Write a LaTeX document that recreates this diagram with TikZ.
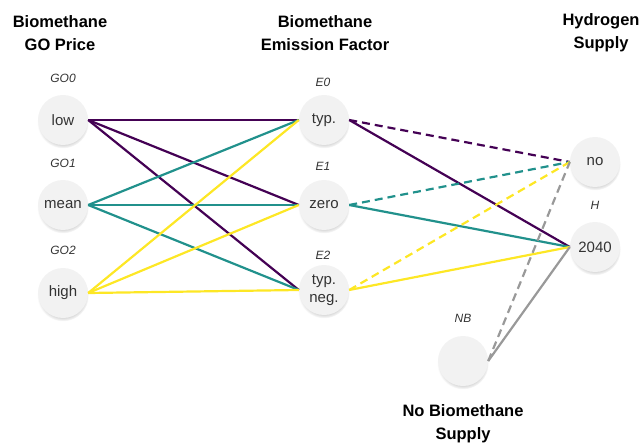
\documentclass[tikz,border=0pt]{standalone}
\usepackage{fontspec}
\setmainfont{Liberation Sans}
\usetikzlibrary{shadows}
\definecolor{vpurple}{HTML}{440154}
\definecolor{vteal}{HTML}{21918C}
\definecolor{vyellow}{HTML}{FDE725}
\definecolor{vgray}{HTML}{999999}
\definecolor{nodefill}{HTML}{F2F2F2}
\definecolor{txt}{HTML}{333333}
\begin{document}
\begin{tikzpicture}[x=1pt,y=-1pt,
  state/.style={circle, minimum size=50pt, inner sep=0pt, fill=nodefill,
    circular drop shadow={shadow xshift=0pt, shadow yshift=-2.5pt, opacity=0.3, shadow scale=1.03},
    font=\fontsize{15}{18}\selectfont, text=txt, align=center},
  header/.style={font=\bfseries\fontsize{16.5}{23}\selectfont, align=center, text=black},
  lab/.style={font=\itshape\fontsize{12}{14}\selectfont, text=txt},
  edge/.style={line width=2.2pt},
  dashedge/.style={line width=2.2pt, dash pattern=on 8pt off 5pt}]
\useasboundingbox (0,0) rectangle (644,446);
% headers
\node[header] (h1) at (60,33) {Biomethane\\GO Price};
\node[header] (h2) at (325,33) {Biomethane\\Emission Factor};
\node[header] (h3) at (601,33) {Hydrogen\\Supply};
\node[header] (h4) at (463,424) {No Biomethane\\Supply};
% nodes
\node[state] (low) at (63,120) {low};
\node[state] (mean) at (63,205) {mean};
\node[state] (high) at (63,293) {high};
\node[state] (typ) at (324,120) {typ.};
\node[state] (zero) at (324,205) {zero};
\node[state] (neg) at (324,290) {typ.\\neg.};
\node[state] (no) at (595,162) {no};
\node[state] (h2040) at (595,247) {2040};
\node[state] (nb) at (463,361) {};
% labels
\node[lab] (lg0) at (63,78) {GO0};
\node[lab] (lg1) at (63,163) {GO1};
\node[lab] (lg2) at (63,250) {GO2};
\node[lab] (le0) at (323,82) {E0};
\node[lab] (le1) at (323,166) {E1};
\node[lab] (le2) at (323,255) {E2};
\node[lab] (lh) at (595,205) {H};
\node[lab] (lnb) at (463,318) {NB};
% left to middle
\foreach \s/\c in {low/vpurple, mean/vteal, high/vyellow}{
  \foreach \t in {typ, zero, neg}{
    \draw[edge, \c] (\s.east) -- (\t.west);
  }
}
% middle to right
\foreach \s/\c in {typ/vpurple, zero/vteal, neg/vyellow}{
  \draw[dashedge, \c] (\s.east) -- (no.west);
  \draw[edge, \c] (\s.east) -- (h2040.west);
}
\draw[dashedge, vgray] (nb.east) -- (no.west);
\draw[edge, vgray] (nb.east) -- (h2040.west);
\end{tikzpicture}
\end{document}
